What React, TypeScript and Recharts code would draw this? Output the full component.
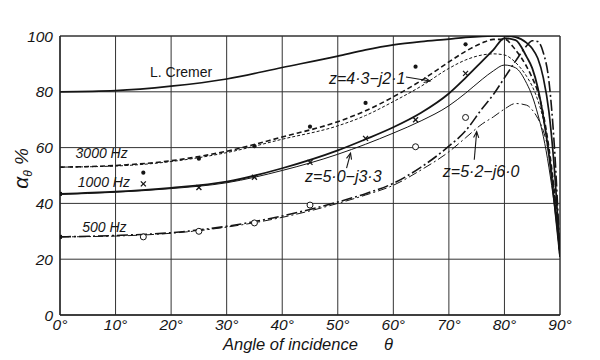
import React from 'react';
import {
  ComposedChart,
  Line,
  Scatter,
  XAxis,
  YAxis,
  CartesianGrid,
  ReferenceDot,
  ReferenceLine,
  Label,
} from 'recharts';

// ---- data ----
const angles = [0, 10, 20, 30, 40, 50, 55, 60, 65, 70, 73, 76, 78, 80, 82, 84, 85, 86, 87, 88, 89, 90];

const cremer = [80, 80.4, 82, 84.6, 88.7, 92.8, 95, 96.8, 98, 98.9, 99.5, 99.9, 100, 100, 99.6, 97.5, 95.5, 92, 85, 73, 52, 21];
const hz1000Thick = [43.4, 44.2, 45.6, 47.8, 52.6, 59, 63, 67.3, 72.5, 79.4, 85, 91, 95, 99.2, 98.5, 92.5, 88.5, 81.5, 71, 57.5, 40, 21];
const hz1000Thin = [43.2, 44, 45.3, 47.4, 51.8, 57.6, 61.2, 65.2, 69.6, 75, 79.5, 84.5, 87.5, 89.6, 88.6, 83, 78.5, 72, 64, 53, 39, 21];
const hz3000Thick = [53, 53.6, 55.3, 58.7, 63.8, 69.3, 73.2, 78.2, 84, 90.7, 94.5, 97.5, 98.8, 98.8, 95, 89, 85, 80, 72, 60, 44, 21];
const hz3000Thin = [53, 53.4, 55, 58.2, 63, 67.8, 71.5, 76.5, 82, 88.4, 91.4, 93.2, 93.6, 93.2, 90.5, 85.5, 82, 77, 70, 59, 43, 21];
const hz500Thick = [28, 28.5, 29.5, 31.8, 35.5, 40.5, 43.5, 47.2, 53, 60.5, 66, 74, 79, 85, 91, 96.5, 98.3, 98, 94, 84, 60, 21];
const hz500Thin = [28, 28.3, 29.3, 31.5, 35, 40, 43, 46.5, 52, 58.5, 63.5, 68.5, 71, 73.8, 75.8, 75.2, 73.5, 70.5, 66, 58, 44, 21];

const dot3000Angles = [15, 25, 35, 45, 55, 64, 73];
const dot3000Values = [51, 56, 60.5, 67.5, 76, 89, 97];
const cross1000Angles = [15, 25, 35, 45, 55, 64, 73];
const cross1000Values = [47, 45.7, 49.4, 54.7, 63.3, 70, 86.6];
const circle500Angles = [15, 25, 35, 45, 64, 73];
const circle500Values = [28, 30, 33, 39.4, 60.3, 70.8];
const zeroAngles = [0, 0];
const zeroValues = [43.4, 28];

const xTicks = [0, 10, 20, 30, 40, 50, 60, 70, 80, 90];
const yTicks = [0, 20, 40, 60, 80, 100];

const toPts = (xs: number[], ys: number[]) => xs.map((a, i) => ({ angle: a, v: ys[i] }));

const INK = '#151515';
const FONT = '"Liberation Sans", Arial, Helvetica, sans-serif';

const DotShape = (p: any) => <circle cx={p.cx} cy={p.cy} r={2.1} fill={INK} />;
const CrossShape = (p: any) => (
  <g stroke={INK} strokeWidth={1.3}>
    <line x1={p.cx - 2.5} y1={p.cy - 2.5} x2={p.cx + 2.5} y2={p.cy + 2.5} />
    <line x1={p.cx - 2.5} y1={p.cy + 2.5} x2={p.cx + 2.5} y2={p.cy - 2.5} />
  </g>
);
const CircleShape = (p: any) => <circle cx={p.cx} cy={p.cy} r={3} fill="#fff" stroke={INK} strokeWidth={1} />;
const SquareShape = (p: any) => <rect x={p.cx - 2} y={p.cy - 2} width={4} height={4} fill={INK} />;

const textShape = (txt: string, size: number, italic: boolean) => (p: any) => (
  <text
    x={p.cx}
    y={p.cy}
    textAnchor="middle"
    dominantBaseline="central"
    fontFamily={FONT}
    fontSize={size}
    fontStyle={italic ? 'italic' : 'normal'}
    fill={INK}
  >
    {txt}
  </text>
);

const arrowShape = (dx: number, dy: number) => (p: any) => {
  const len = Math.sqrt(dx * dx + dy * dy);
  const ux = -dx / len;
  const uy = -dy / len;
  const h = 6;
  const w = 2.6;
  const bx = p.cx - ux * h;
  const by = p.cy - uy * h;
  return (
    <g stroke={INK} strokeWidth={1.1} fill="none">
      <line x1={p.cx + dx} y1={p.cy + dy} x2={p.cx} y2={p.cy} />
      <path d={`M${bx - uy * w},${by + ux * w} L${p.cx},${p.cy} L${bx + uy * w},${by - ux * w}`} />
    </g>
  );
};

const YTitle = (props: any) => {
  const vb = props.viewBox || { x: 0, y: 36, width: 60, height: 279 };
  const cx = vb.x + 28;
  const cy = vb.y + vb.height / 2 - 7;
  return (
    <text
      transform={`translate(${cx},${cy}) rotate(-90)`}
      textAnchor="middle"
      fontFamily={FONT}
      fontStyle="italic"
      fontSize={21}
      fill={INK}
    >
      α
      <tspan fontSize={12} dy={4}>θ</tspan>
      <tspan dy={-4} fontSize={19}> %</tspan>
    </text>
  );
};

const XTitle = (props: any) => {
  const vb = props.viewBox || { x: 60, y: 315, width: 500, height: 45 };
  const y = vb.y + 35;
  return (
    <text y={y} fontFamily={FONT} fontStyle="italic" fontSize={16.5} fill={INK}>
      <tspan x={223}>Angle of incidence</tspan>
      <tspan x={384}>θ</tspan>
    </text>
  );
};

const tickStyle = { fontFamily: FONT, fontStyle: 'italic', fontSize: 15.5, fill: INK } as any;

export default function App() {
  const series = [
    { d: cremer, w: 1.7, dash: undefined },
    { d: hz1000Thick, w: 1.8, dash: undefined },
    { d: hz1000Thin, w: 1.0, dash: undefined },
    { d: hz3000Thick, w: 1.6, dash: '5 3' },
    { d: hz3000Thin, w: 1.0, dash: '3 2' },
    { d: hz500Thick, w: 1.6, dash: '11 3 2 3' },
    { d: hz500Thin, w: 1.0, dash: '9 3 2 3' },
  ];
  return (
    <div style={{ position: 'absolute', left: 0, top: 0, width: 600, height: 360, background: '#fff' }}>
      <ComposedChart width={600} height={360} margin={{ top: 36, right: 40, bottom: 0, left: 0 }}>
        <CartesianGrid stroke="#333" strokeWidth={1} />
        <XAxis
          dataKey="angle"
          type="number"
          domain={[0, 90]}
          ticks={xTicks}
          tickFormatter={(v: number) => `${v}°`}
          height={45}
          tickLine={false}
          tickSize={2}
          tickMargin={2}
          axisLine={{ stroke: '#222', strokeWidth: 1.4 }}
          tick={tickStyle}
          interval={0}
          allowDataOverflow
        >
          <Label content={XTitle} />
        </XAxis>
        <YAxis
          dataKey="v"
          type="number"
          domain={[0, 100]}
          ticks={yTicks}
          width={60}
          tickLine={false}
          tickSize={4}
          tickMargin={3}
          axisLine={{ stroke: '#222', strokeWidth: 1.4 }}
          tick={tickStyle}
          interval={0}
          allowDataOverflow
        >
          <Label content={YTitle} />
        </YAxis>
        <ReferenceLine y={100} stroke="#333" strokeWidth={1} />
        <ReferenceLine x={90} stroke="#333" strokeWidth={1} />
        {series.map((s, i) => (
          <Line
            key={i}
            data={toPts(angles, s.d)}
            dataKey="v"
            type="monotone"
            stroke={INK}
            strokeWidth={s.w}
            strokeDasharray={s.dash}
            dot={false}
            activeDot={false}
            isAnimationActive={false}
          />
        ))}
        <Scatter data={toPts(dot3000Angles, dot3000Values)} dataKey="v" shape={DotShape} isAnimationActive={false} />
        <Scatter data={toPts(cross1000Angles, cross1000Values)} dataKey="v" shape={CrossShape} isAnimationActive={false} />
        <Scatter data={toPts(circle500Angles, circle500Values)} dataKey="v" shape={CircleShape} isAnimationActive={false} />
        <Scatter data={toPts(zeroAngles, zeroValues)} dataKey="v" shape={SquareShape} isAnimationActive={false} />

        <ReferenceDot x={21.8} y={87.1} r={0} shape={textShape('L. Cremer', 14, false)} ifOverflow="visible" />
        <ReferenceDot x={7.5} y={58.1} r={0} shape={textShape('3000 Hz', 14, true)} ifOverflow="visible" />
        <ReferenceDot x={7.9} y={47.5} r={0} shape={textShape('1000 Hz', 14, true)} ifOverflow="visible" />
        <ReferenceDot x={8} y={31.7} r={0} shape={textShape('500 Hz', 14, true)} ifOverflow="visible" />
        <ReferenceDot x={55.3} y={84.6} r={0} shape={textShape('z=4·3−j2·1', 16, true)} ifOverflow="visible" />
        <ReferenceDot x={51} y={49.5} r={0} shape={textShape('z=5·0−j3·3', 16, true)} ifOverflow="visible" />
        <ReferenceDot x={75.8} y={51.4} r={0} shape={textShape('z=5·2−j6·0', 16, true)} ifOverflow="visible" />
        <ReferenceDot x={66.6} y={83.9} r={0} shape={arrowShape(-24, -4)} ifOverflow="visible" />
        <ReferenceDot x={52.3} y={58} r={0} shape={arrowShape(-4, 15)} ifOverflow="visible" />
        <ReferenceDot x={75} y={65.7} r={0} shape={arrowShape(-2.4, 28)} ifOverflow="visible" />
      </ComposedChart>
    </div>
  );
}
